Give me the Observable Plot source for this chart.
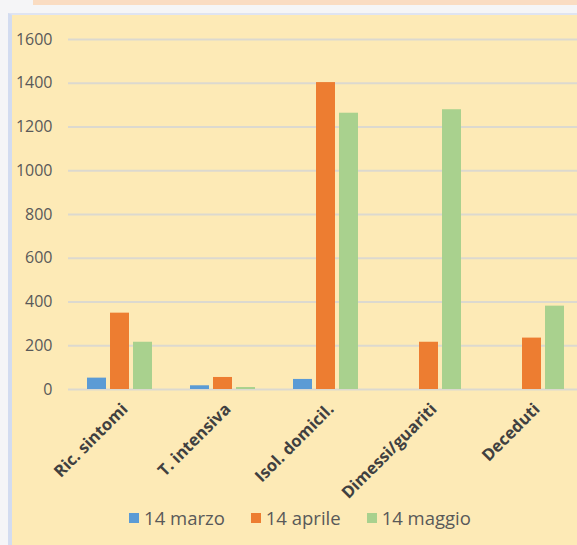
<!DOCTYPE html>
<html>
<head>
<meta charset="utf-8">
<script src="https://cdn.jsdelivr.net/npm/d3@7"></script>
<script src="https://cdn.jsdelivr.net/npm/@observablehq/plot@0.6"></script>
<style>
  html, body { margin: 0; padding: 0; width: 577px; height: 545px; overflow: hidden; background: #f5f5f7; font-family: "Open Sans", sans-serif; }
  #wrap { position: relative; width: 577px; height: 545px; overflow: hidden; }
  #band { position: absolute; left: 33px; top: 0; width: 544px; height: 5px; background: #fadcc2; }
  #panel { position: absolute; left: 8px; top: 13px; width: 569px; height: 532px; background: #fdeab6;
           border-left: 4px solid #d3dcf0; border-top: 2px solid #dfe4f2; box-sizing: border-box; }
  .layer { position: absolute; left: 0; top: 0; width: 577px; height: 505px; overflow: hidden; }
  .layer svg { max-width: none !important; width: 583px; height: 505px; }
  #legend { position: absolute; left: 0; top: 504px; width: 577px; padding-left: 23px; box-sizing: border-box;
            display: flex; justify-content: center; gap: 26px;
            font-size: 18.5px; color: #595959; line-height: 28px; }
  .item { display: flex; align-items: center; gap: 5px; }
  .sw { width: 10px; height: 10px; display: inline-block; }
</style>
</head>
<body>
<div id="wrap">
<div id="band"></div>
<div id="panel"></div>
<div id="grid" class="layer"></div>
<div id="chart" class="layer"></div>
<div id="legend"></div>
</div>
<script>
const categories = ["Ric. sintomi", "T. intensiva", "Isol. domicil.", "Dimessi/guariti", "Deceduti"];
const series = ["14 marzo", "14 aprile", "14 maggio"];
const marzo  = [52, 17, 46, 0, 0];
const aprile = [349, 55, 1403, 216, 235];
const maggio = [216, 9, 1263, 1279, 381];
const colors = ["#5b9bd5", "#ed7d31", "#a9d18e"];
const yTicks = [0, 200, 400, 600, 800, 1000, 1200, 1400, 1600];

const valuesBySeries = [marzo, aprile, maggio];
const data = [];
categories.forEach((c, i) => {
  series.forEach((s, j) => data.push({cat: c, series: s, value: valuesBySeries[j][i]}));
});

const dims = {width: 583, height: 505, marginLeft: 68, marginRight: 0, marginTop: 39, marginBottom: 116};

const grid = Plot.plot({
  ...dims,
  style: {background: "transparent", fontFamily: "Open Sans", maxWidth: "none"},
  y: {domain: [0, 1600], axis: null},
  marks: [
    Plot.ruleY(yTicks, {stroke: "#dcd9cf", strokeWidth: 1.8}),
    Plot.axisY(yTicks, {tickSize: 0, tickPadding: 16, fontSize: 16, fill: "#595959", label: null,
      tickFormat: d => String(d)})
  ]
});
document.getElementById("grid").appendChild(grid);

const chart = Plot.plot({
  ...dims,
  style: {background: "transparent", fontFamily: "Open Sans", maxWidth: "none"},
  fx: {domain: categories, paddingInner: 0.37, paddingOuter: 0.185, label: null},
  x: {domain: series, paddingInner: 0.174, paddingOuter: 0, axis: null},
  y: {domain: [0, 1600], axis: null},
  color: {domain: series, range: colors},
  marks: [
    Plot.barY(data, {fx: "cat", x: "series", y: "value", fill: "series"}),
    Plot.axisFx({anchor: "bottom", tickRotate: -45, tickSize: 0, tickPadding: 17, dx: 5,
      fontSize: 16.5, fontWeight: "bold", fill: "#404040", label: null})
  ]
});
document.getElementById("chart").appendChild(chart);

const legend = document.getElementById("legend");
series.forEach((s, j) => {
  const item = document.createElement("div");
  item.className = "item";
  const sw = document.createElement("span");
  sw.className = "sw";
  sw.style.background = colors[j];
  const t = document.createElement("span");
  t.textContent = s;
  item.appendChild(sw);
  item.appendChild(t);
  legend.appendChild(item);
});
</script>
</body>
</html>
